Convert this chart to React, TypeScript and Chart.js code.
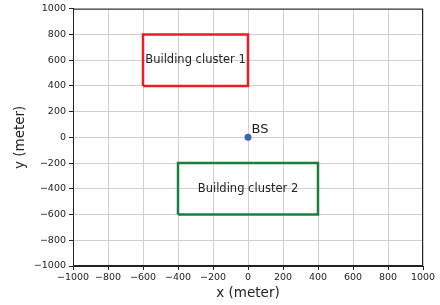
import React, { useEffect, useRef } from "react";
import { Chart, registerables } from "chart.js";

Chart.register(...registerables);

// Axis ranges and ticks
const xMin = -1000;
const xMax = 1000;
const yMin = -1000;
const yMax = 1000;
const tickStep = 200;

// Building cluster outlines (closed polygons)
const cluster1X = [-600, 0, 0, -600, -600];
const cluster1Y = [400, 400, 800, 800, 400];
const cluster2X = [-400, 400, 400, -400, -400];
const cluster2Y = [-600, -600, -200, -200, -600];

// Base station
const bsX = [0];
const bsY = [0];

// Text annotations (data coords)
const labelTexts = ["Building cluster 1", "Building cluster 2", "BS"];
const labelX = [-300, 0, 20];
const labelY = [600, -400, 62];

const FONT = "'DejaVu Sans', sans-serif";

const toPts = (xs: number[], ys: number[]) => xs.map((x, i) => ({ x, y: ys[i] }));
const fmt = (v: number | string) => String(v).replace("-", "\u2212");

const annotationPlugin = {
  id: "annot",
  afterDatasetsDraw(chart: any) {
    const { ctx, scales, chartArea } = chart;
    ctx.save();
    ctx.strokeStyle = "#222";
    ctx.lineWidth = 1;
    ctx.strokeRect(chartArea.left + 0.5, chartArea.top + 0.5, chartArea.right - chartArea.left - 1, chartArea.bottom - chartArea.top - 1);
    ctx.fillStyle = "#222";
    ctx.textBaseline = "middle";
    labelTexts.forEach((t, i) => {
      const px = scales.x.getPixelForValue(labelX[i]);
      const py = scales.y.getPixelForValue(labelY[i]);
      if (t === "BS") {
        ctx.font = `13px ${FONT}`;
        ctx.textAlign = "left";
      } else {
        ctx.font = `11.5px ${FONT}`;
        ctx.textAlign = "center";
      }
      ctx.fillText(t, px, py);
    });
    ctx.restore();
  },
};

export default function App() {
  const ref = useRef<HTMLCanvasElement | null>(null);
  useEffect(() => {
    if (!ref.current) return;
    const chart = new Chart(ref.current, {
      type: "scatter",
      data: {
        datasets: [
          {
            data: toPts(cluster1X, cluster1Y),
            showLine: true,
            borderColor: "#ec1c24",
            borderWidth: 2.5,
            pointRadius: 0,
            fill: false,
          },
          {
            data: toPts(cluster2X, cluster2Y),
            showLine: true,
            borderColor: "#19803c",
            borderWidth: 2.5,
            pointRadius: 0,
            fill: false,
          },
          {
            data: toPts(bsX, bsY),
            showLine: false,
            pointRadius: 3.5,
            backgroundColor: "#3f63b4",
            borderColor: "#3f63b4",
            borderWidth: 0,
          },
        ],
      },
      options: {
        responsive: false,
        animation: false,
        layout: { padding: { left: 0, right: 17, top: 6, bottom: 0 } },
        plugins: { legend: { display: false }, tooltip: { enabled: false } },
        scales: {
          x: {
            type: "linear",
            min: xMin,
            max: xMax,
            afterFit: (s: any) => { s.height = 39; },
            ticks: {
              stepSize: tickStep,
              color: "#222",
              font: { family: FONT, size: 9.5 },
              padding: 2,
              maxRotation: 0,
              autoSkip: false,
              callback: (v: any) => fmt(v),
            },
            grid: { color: "#d0d0d0", lineWidth: 1, tickColor: "#222", tickLength: 4 },
            border: { color: "#222", width: 1 },
            title: {
              display: true,
              text: "x (meter)",
              color: "#222",
              font: { family: FONT, size: 13.5 },
              padding: { top: 0, bottom: 3 },
            },
          },
          y: {
            type: "linear",
            min: yMin,
            max: yMax,
            afterFit: (s: any) => { s.width = 73; },
            ticks: {
              stepSize: tickStep,
              color: "#222",
              font: { family: FONT, size: 9.5 },
              padding: 3,
              autoSkip: false,
              callback: (v: any) => fmt(v),
            },
            grid: { color: "#d0d0d0", lineWidth: 1, tickColor: "#222", tickLength: 4 },
            border: { color: "#222", width: 1 },
            title: {
              display: true,
              text: "y (meter)",
              color: "#222",
              font: { family: FONT, size: 13.5 },
              padding: { top: 12, bottom: 0 },
            },
          },
        },
      },
      plugins: [annotationPlugin],
    });
    return () => chart.destroy();
  }, []);
  return (
    <canvas
      ref={ref}
      width={440}
      height={305}
      style={{ position: "absolute", left: 0, top: 0, display: "block", background: "#fff" }}
    />
  );
}
